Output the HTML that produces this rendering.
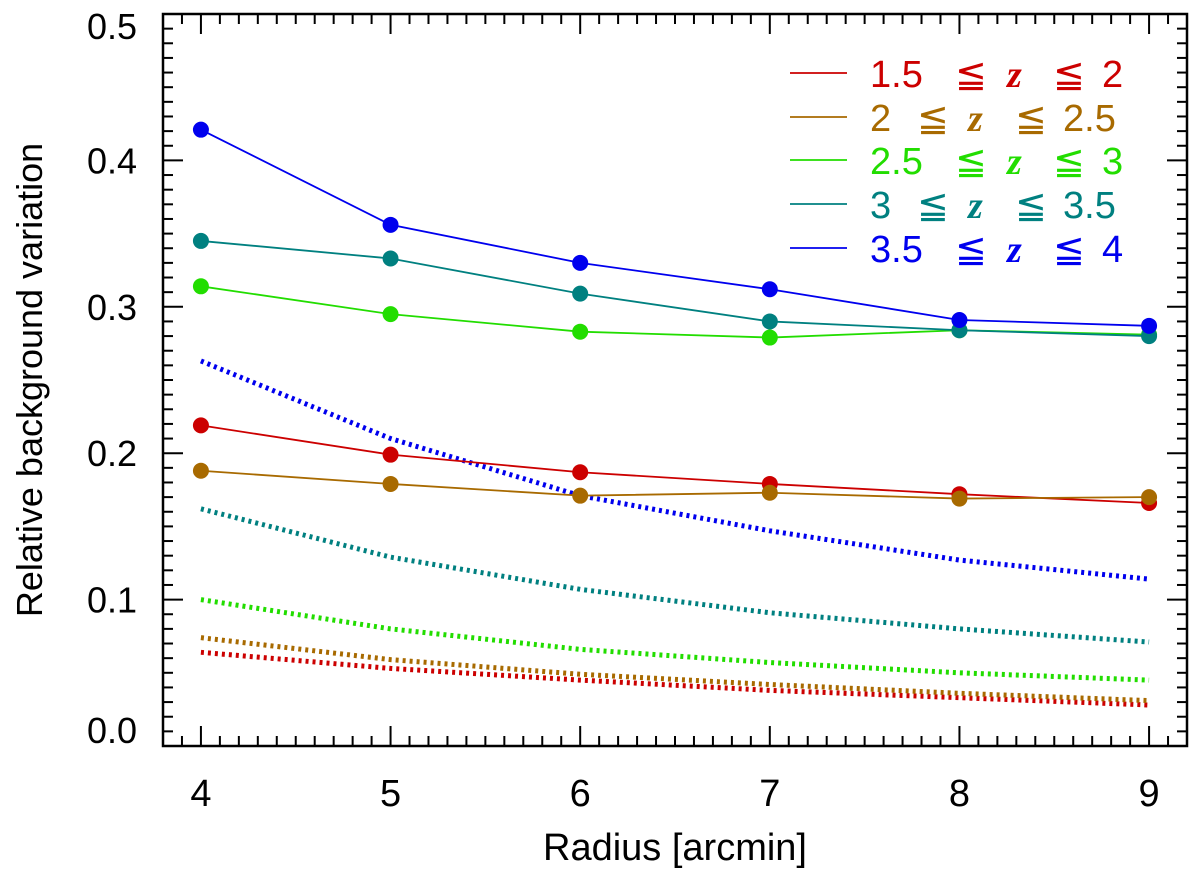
<!DOCTYPE html>
<html><head><meta charset="utf-8"><style>
body{margin:0;background:#fff;}
svg{display:block;font-family:"Liberation Sans",sans-serif;}
</style></head><body>
<svg id="chart" width="1200" height="872" viewBox="0 0 1200 872" xmlns="http://www.w3.org/2000/svg">
<g id="grid-ticks"></g>
<g id="series"></g>
<rect x="163" y="14" width="1024" height="732" fill="none" stroke="#000" stroke-width="2.5"/>
<g id="labels"></g>
<text x="675" y="860" font-size="38" text-anchor="middle">Radius [arcmin]</text>
<text transform="translate(42,380) rotate(-90)" font-size="36" text-anchor="middle">Relative background variation</text>
<g id="legend"></g>
</svg>
<script>
const radii = [4,5,6,7,8,9];
const seriesNames = ["1.5 ≦ z ≦ 2","2 ≦ z ≦ 2.5","2.5 ≦ z ≦ 3","3 ≦ z ≦ 3.5","3.5 ≦ z ≦ 4"];
const colors = ["#cc0000","#a86a00","#22dd00","#008080","#0000ee"];
const redSolid   = [0.219,0.199,0.187,0.179,0.172,0.166];
const brownSolid = [0.188,0.179,0.171,0.173,0.169,0.170];
const greenSolid = [0.314,0.295,0.283,0.279,0.284,0.281];
const tealSolid  = [0.345,0.333,0.309,0.290,0.284,0.280];
const blueSolid  = [0.421,0.356,0.330,0.312,0.291,0.287];
const redDotted   = [0.064,0.053,0.045,0.038,0.033,0.028];
const brownDotted = [0.074,0.059,0.049,0.042,0.036,0.031];
const greenDotted = [0.100,0.080,0.066,0.057,0.050,0.045];
const tealDotted  = [0.162,0.129,0.107,0.091,0.080,0.071];
const blueDotted  = [0.263,0.210,0.171,0.147,0.127,0.114];
const xTicks = [4,5,6,7,8,9];
const yTicks = [0.0,0.1,0.2,0.3,0.4,0.5];
const yTickLabels = ["0.0","0.1","0.2","0.3","0.4","0.5"];

const solids=[redSolid,brownSolid,greenSolid,tealSolid,blueSolid];
const dotteds=[redDotted,brownDotted,greenDotted,tealDotted,blueDotted];
const NS="http://www.w3.org/2000/svg";
const X0=163,X1=1187,Y0=746,Y1=14;
const xs=v=>X0+(v-3.8)/(9.2-3.8)*(X1-X0);
const ys=v=>Y0-(v-0)/(0.5-0)*(Y0-Y1);
function mk(tag,attrs,parent){const e=document.createElementNS(NS,tag);for(const k in attrs)e.setAttribute(k,attrs[k]);parent.appendChild(e);return e;}
const tg=document.getElementById('grid-ticks');
const lg=document.getElementById('labels');
for(let i=38;i<=92;i++){const v=i/10;const major=(i%10===0);const L=major?20:10;const x=xs(v);
 const t=mk('line',{x1:x,x2:x,y1:Y0,y2:Y0-L,stroke:'#000','stroke-width':2},tg);
 
 const t2=mk('line',{x1:x,x2:x,y1:Y1,y2:Y1+L,stroke:'#000','stroke-width':2},tg);
 }
for(let i=0;i<=50;i++){const v=i/100;const major=(i%10===0);const L=major?20:10;const y=ys(v);
 const t=mk('line',{x1:X0,x2:X0+L,y1:y,y2:y,stroke:'#000','stroke-width':2},tg);
 
 const t2=mk('line',{x1:X1,x2:X1-L,y1:y,y2:y,stroke:'#000','stroke-width':2},tg);
 }
xTicks.forEach(v=>{const t=mk('text',{x:xs(v),y:806,'font-size':38,'text-anchor':'middle'},lg);t.textContent=v;
 });
yTicks.forEach((v,i)=>{let y=ys(v)+13;if(i===0)y-=16;if(i===5)y+=12;const t=mk('text',{x:137,y:y,'font-size':36,'text-anchor':'end'},lg);t.textContent=yTickLabels[i];
 });
const sg=document.getElementById('series');
dotteds.forEach((d,k)=>{const pts=radii.map((r,i)=>xs(r)+','+ys(d[i])).join(' ');
 const p=mk('polyline',{points:pts,fill:'none',stroke:colors[k],'stroke-width':5,'stroke-dasharray':'3 4'},sg);
 });
solids.forEach((d,k)=>{const pts=radii.map((r,i)=>xs(r)+','+ys(d[i])).join(' ');
 const p=mk('polyline',{points:pts,fill:'none',stroke:colors[k],'stroke-width':1.8},sg);
 
 radii.forEach((r,i)=>{const c=mk('circle',{cx:xs(r),cy:ys(d[i]),r:8,fill:colors[k]},sg);
  });});
const leg=document.getElementById('legend');
const rowsY=[73,117,160,204,248];
const colA=[870,955,1007,1053,1102];
const colB=[870,917,968,1015,1063];
seriesNames.forEach((n,k)=>{const y=rowsY[k];
 const l=mk('line',{x1:790,x2:847,y1:y,y2:y,stroke:colors[k],'stroke-width':1.8},leg);
 
 const parts=n.split(' ');
 const cols=(k===1||k===3)?colB:colA;
 const t=mk('text',{x:870,y:y+14,'font-size':38,fill:colors[k]},leg);
 
 parts.forEach((p,j)=>{const s=mk('tspan',{x:cols[j]},t);
  if(p==='z'){s.setAttribute('font-family','Liberation Serif, serif');s.setAttribute('font-style','italic');s.setAttribute('font-weight','bold');}
  s.textContent=p;});
});
</script>
</body></html>
